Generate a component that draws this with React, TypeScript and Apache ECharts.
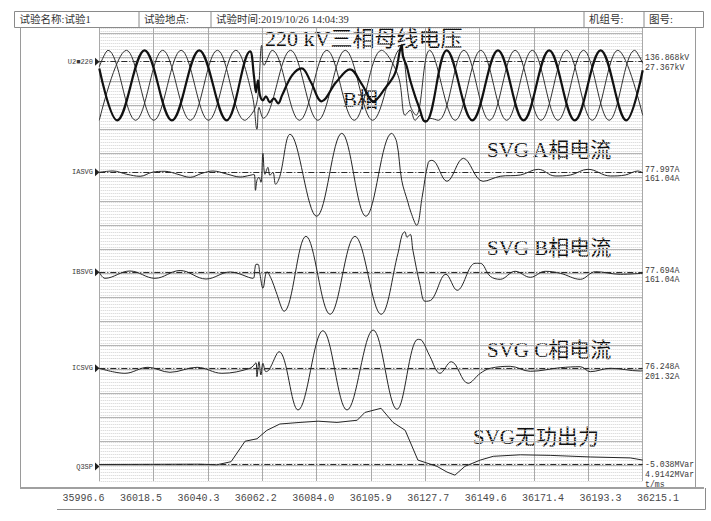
import React, { useEffect, useRef } from "react";
import * as echarts from "echarts";

// ---------- texts ----------
const HEADER_CELLS = ["试验名称:试验1", "试验地点:", "试验时间:2019/10/26 14:04:39", "机组号:", "图号:"];
const TIME_LABELS = ["35996.6", "36018.5", "36040.3", "36062.2", "36084.0", "36105.9", "36127.7", "36149.6", "36171.4", "36193.3", "36215.1"];
const CHANNEL_NAMES = ["U2■220", "IASVG", "IBSVG", "ICSVG", "Q3SP"];
const RIGHT_VALUES = [
  ["136.868kV", "27.367kV"],
  ["77.997A", "161.04A"],
  ["77.694A", "161.04A"],
  ["76.248A", "201.32A"],
  ["-5.038MVar", "4.9142MVar"],
];
const UNIT_LABEL = "t/ms";
const TITLES = ["220 kV三相母线电压", "B相", "SVG A相电流", "SVG B相电流", "SVG C相电流", "SVG无功出力"];

// ---------- data: [time ms from start, value in display units] ----------
const U_B: [number, number][] = [
  [0, 16.7], [7.2, -35], [18.2, 35], [29.2, -35], [40.2, 35], [51.2, -35], [60.6, 34],
  [62.2, 9], [63.0, -7], [63.8, 5], [64.6, -10], [65.8, -15], [67.0, -11], [68.6, -17], [70.2, -13],
  [71.9, -18], [73.5, -10], [77.5, 10], [81.4, 17], [85.1, 3], [89.4, -16], [95.2, 3], [100.8, 16],
  [105.6, 1], [110.2, -16], [114.9, -3], [118.9, 12], [120.9, 35], [121.6, 40], [122.1, 29],
  [123.6, 19], [125.0, 5], [127.0, -11], [129.0, -25], [130.3, -35], [131.4, -36],
  [139.7, 35], [150.0, -35], [160.3, 35], [170.6, -35], [180.9, 35], [191.2, -35], [201.6, 35],
  [211.9, -35], [218.5, 15],
];
const U_A: [number, number][] = [
  [0, -35], [10.9, 35], [21.9, -35], [32.9, 35], [43.9, -35], [54.9, 35], [61.4, -9],
  [63.4, -44], [64.2, -22], [65.9, -33], [76.9, 35], [87.9, -35], [98.9, 35], [109.9, -35],
  [120.9, 36], [125.0, -20], [127.4, -30], [132.8, 35], [143.1, -35], [153.4, 35], [163.8, -35],
  [174.1, 35], [184.4, -35], [194.7, 35], [205.0, -35], [215.3, 35], [218.5, 22],
];
const U_C: [number, number][] = [
  [0, 18.6], [3.5, 35], [14.6, -35], [25.5, 35], [36.6, -35], [47.5, 35], [58.5, -35],
  [62.2, -25], [63.8, -10], [65.3, 40], [66.2, 20], [69.5, 35], [80.5, -35], [91.5, 35],
  [102.5, -35], [113.5, 35], [120.1, 10], [123.0, -30], [125.0, -25], [127.0, -35], [129.0, -30],
  [131.0, -37], [133.0, -33], [136.3, -35], [146.6, 35], [156.9, -35], [167.2, 35], [177.6, -35],
  [187.9, 35], [198.2, -35], [208.5, 35], [218.5, -30],
];
const I_A: [number, number][] = [
  [0, 0], [5.5, 1.3], [11.1, -2], [16.4, -4], [21.2, 0], [26.4, 1], [31.6, -2], [36.5, -5],
  [41.3, -1], [45.7, 1.3], [51.7, -2], [56.6, -4.7], [60.6, -3], [62.2, -2], [62.8, -18],
  [63.4, -8], [64.2, -5], [65.0, -10], [65.8, 19], [66.6, -2], [67.8, 5], [68.6, -3], [69.8, 0],
  [70.9, -12], [72.6, -4], [76.7, 38], [87.4, -44], [97.5, 39], [107.2, -44], [117.6, 39],
  [119.6, 30], [121.6, -8], [124.1, -30], [125.3, -40], [127.6, -53], [129.8, -25], [132.3, 10],
  [133.8, 12], [139.8, -9], [146.4, 14], [154.3, -9], [161.2, -4], [169.3, -2.7], [176.5, 3],
  [183.3, -3.7], [189.4, -2.7], [196.5, 3], [205.5, -3.7], [211.5, -2.7], [216.6, 1.3], [218.5, -0.5],
];
const I_B: [number, number][] = [
  [0, 0], [2.3, -6], [12.3, 1.3], [22.4, -6], [32.5, 1.8], [42.9, -6.7], [52.6, 0.3], [61.8, -6],
  [62.6, 4], [63.0, 8], [63.8, 8], [64.6, -2], [65.8, -16], [67.4, 0.6], [69.4, -8], [71.0, -19],
  [74.3, -39], [83.1, 36], [92.8, -42], [102.8, 36], [113.3, -42], [120.1, 19], [121.7, 37],
  [122.9, 40.6], [123.7, 35], [125.0, 38], [126.1, 22], [129.0, -13], [131.0, -29], [133.8, -27],
  [139.4, -2], [143.9, -18], [151.1, 9], [153.2, 9], [157.2, -4], [161.2, -7], [167.2, 1],
  [173.3, -5], [179.3, 1], [185.4, -1], [193.4, -7], [199.5, 0.6], [209.5, -2], [218.5, -1],
];
const I_C: [number, number][] = [
  [0, 0], [10.3, -5], [19.6, 1], [28.4, -4], [39.3, 1], [49.3, -5], [60.6, 0], [63.0, 5.6],
  [63.4, -8.4], [64.2, 6.6], [65.0, -6.7], [65.8, 5], [67.0, -3.4], [68.2, -1.7], [72.3, 16.6],
  [79.9, -41.7], [89.9, 37.6], [99.6, -41.7], [110.1, 38.3], [119.7, -41], [128.1, 29],
  [129.8, 27.6], [133.0, 11.6], [137.0, -5], [141.5, 6.6], [148.3, -15], [153.2, -5], [157.2, 0],
  [165.2, 2], [173.3, -3], [185.4, 0.6], [193.4, 1.6], [197.4, -3.4], [205.5, 0], [217.6, -2.7],
  [218.5, -2.5],
];
const Q_OUT: [number, number][] = [
  [0, 0], [40.5, 0.3], [47.3, -0.3], [53.0, 3], [58.6, 24.7], [63.4, 27.3], [67.4, 36.3],
  [72.6, 43], [80.7, 44.7], [88.0, 46], [95.6, 44.7], [103.7, 47], [106.8, 55.3], [113.3, 59.7],
  [118.1, 44.7], [123.0, 36.3], [128.1, 4.7], [135.8, -2], [139.8, -8], [143.0, -11.3],
  [147.0, -2], [153.2, 4.7], [158.4, 8.7], [169.3, 10.3], [181.3, 9.7], [197.4, 8], [213.5, 7],
  [218.5, 4.7],
];
const U_REF_LEVEL = 23.6;

// ---------- layout ----------
const PLOT_L = 99.3;
const PLOT_W = 543.4;
const T_MAX = 218.5;
const T_STEP = 21.85;
const CH_ZERO = [85.3, 172.3, 272.3, 368.3, 468];
const CH_HALF = 60;
const SERIF = '"Liberation Serif", "DejaVu Serif", "Noto Sans CJK SC", serif';
const SMALL = '"Liberation Serif", "Noto Sans CJK SC", serif';
const MONO = '"Liberation Mono", "DejaVu Sans Mono", monospace';

function buildOption() {
  const grids: any[] = [];
  const xAxes: any[] = [];
  const yAxes: any[] = [];
  const series: any[] = [];

  const hiddenX = (gi: number, split: boolean) => ({
    type: "value", gridIndex: gi, min: 0, max: T_MAX, interval: T_STEP,
    axisLine: { show: false }, axisTick: { show: false }, axisLabel: { show: false },
    splitLine: { show: split, lineStyle: { color: "#a9a9a9", width: 1 } },
  });

  // 0: minor dotted horizontal lines + vertical major lines
  grids.push({ left: PLOT_L, top: 28, width: PLOT_W, height: 453, show: true, backgroundColor: "#ffffff", borderWidth: 0 });
  xAxes.push(hiddenX(0, true));
  yAxes.push({
    type: "value", gridIndex: 0, inverse: true, min: 0, max: 453, interval: 3,
    axisLine: { show: false }, axisTick: { show: false }, axisLabel: { show: false },
    splitLine: { show: true, lineStyle: { color: "#d2d2d2", type: [1, 1], width: 1 } },
  });
  // 1: major horizontal lines
  grids.push({ left: PLOT_L, top: 33.3, width: PLOT_W, height: 432 });
  xAxes.push(hiddenX(1, false));
  yAxes.push({
    type: "value", gridIndex: 1, inverse: true, min: 0, max: 432, interval: 24,
    axisLine: { show: false }, axisTick: { show: false }, axisLabel: { show: false },
    splitLine: { show: true, lineStyle: { color: "#b4b4b4", width: 1 } },
  });

  const chanData = [null, I_A, I_B, I_C, Q_OUT];
  CH_ZERO.forEach((z, i) => {
    const gi = grids.length;
    grids.push({ left: PLOT_L, top: z - CH_HALF, width: PLOT_W, height: CH_HALF * 2 });
    xAxes.push(hiddenX(gi, false));
    yAxes.push({
      type: "value", gridIndex: gi, min: -CH_HALF, max: CH_HALF,
      axisLine: { show: false }, axisTick: { show: false }, axisLabel: { show: false }, splitLine: { show: false },
    });
    const baseLine = {
      silent: true, symbol: "none", label: { show: false },
      lineStyle: { color: "#2a2a2a", width: 1, type: [6, 2, 1, 2] },
      data: [{ yAxis: i === 0 ? U_REF_LEVEL : 0 }],
    };
    if (i === 0) {
      series.push(
        { type: "line", xAxisIndex: gi, yAxisIndex: gi, data: U_A, smooth: 0.37, showSymbol: false, clip: false,
          lineStyle: { color: "#303030", width: 1 }, markLine: baseLine, z: 3 },
        { type: "line", xAxisIndex: gi, yAxisIndex: gi, data: U_C, smooth: 0.37, showSymbol: false, clip: false,
          lineStyle: { color: "#303030", width: 1 }, z: 3 },
        { type: "line", xAxisIndex: gi, yAxisIndex: gi, data: U_B, smooth: 0.37, showSymbol: false, clip: false,
          lineStyle: { color: "#111111", width: 2.2 }, z: 4 },
      );
    } else {
      series.push({
        type: "line", xAxisIndex: gi, yAxisIndex: gi, data: chanData[i], smooth: i === 4 ? false : 0.37,
        showSymbol: false, clip: false, lineStyle: { color: "#262626", width: 1 }, markLine: baseLine, z: 3,
      });
    }
  });

  // time label axis
  const lg = grids.length;
  grids.push({ left: 83.5, width: 574.5, top: 470, height: 18 });
  xAxes.push({
    type: "category", gridIndex: lg, data: TIME_LABELS, boundaryGap: false, position: "bottom",
    axisLine: { show: false }, axisTick: { show: false },
    axisLabel: { show: true, interval: 0, color: "#4a4a4a", fontSize: 10, fontFamily: MONO, margin: 5 },
    splitLine: { show: false },
  });
  yAxes.push({ type: "value", gridIndex: lg, show: false });

  // ---------- graphic ----------
  const g: any[] = [];
  const line = (x1: number, y1: number, x2: number, y2: number, stroke: string, w = 1) =>
    g.push({ type: "line", silent: true, shape: { x1, y1, x2, y2 }, style: { stroke, lineWidth: w } });
  const text = (t: string, x: number, y: number, font: string, fill: string, align = "left") =>
    g.push({ type: "text", silent: true, x, y, style: { text: t, font, fill, textAlign: align, textVerticalAlign: "middle" } });

  // header table
  const cellX = [14.5, 139, 211, 584, 644, 703.5];
  line(14.5, 11.5, 703.5, 11.5, "#8a8a8a");
  line(14.5, 27.5, 703.5, 27.5, "#8a8a8a");
  cellX.forEach((x) => line(x, 11.5, x, 27.5, "#8a8a8a"));
  HEADER_CELLS.forEach((t, i) => text(t, cellX[i] + 5, 19.5, `10.5px ${SMALL}`, "#333"));

  // panel frame
  line(20.5, 27.5, 20.5, 488, "#9a9a9a");
  line(695.5, 27.5, 695.5, 488, "#9a9a9a");
  line(20, 488, 704, 488, "#a0a0a0", 2);
  line(57, 509.5, 705.5, 509.5, "#8a8a8a");
  line(705.5, 488, 705.5, 509.5, "#8a8a8a");

  // channel labels and markers
  const labelY = [CH_ZERO[0] - U_REF_LEVEL, CH_ZERO[1], CH_ZERO[2], CH_ZERO[3], CH_ZERO[4] - 1.5];
  CHANNEL_NAMES.forEach((n, i) => {
    const y = labelY[i];
    text(n, 93, y, `7px ${MONO}`, "#3a3a3a", "right");
    g.push({ type: "polygon", silent: true, shape: { points: [[95, y - 4], [99.5, y], [95, y + 4]] }, style: { fill: "#222" } });
  });
  const rightY = [[57.7, 67.3], [169.3, 178.7], [270.3, 279.3], [366, 376], [464, 474]];
  RIGHT_VALUES.forEach((pair, i) => {
    pair.forEach((t, j) => text(t, 645, rightY[i][j], `8.2px ${MONO}`, "#3a3a3a"));
  });
  text(UNIT_LABEL, 645, 484, `8.2px ${MONO}`, "#3a3a3a");

  // big titles
  const titlePos = [[265, 38, 22], [343, 100, 21], [487, 150, 21], [487, 248, 21], [487, 350, 21], [473, 437, 21]];
  TITLES.forEach((t, i) => text(t, titlePos[i][0], titlePos[i][1], `${titlePos[i][2]}px ${SERIF}`, "#111"));

  return {
    animation: false,
    backgroundColor: "#ffffff",
    grid: grids,
    xAxis: xAxes,
    yAxis: yAxes,
    series,
    graphic: { elements: g },
  };
}

export default function App() {
  const ref = useRef<HTMLDivElement>(null);
  useEffect(() => {
    if (!ref.current) return;
    const chart = echarts.init(ref.current, undefined, { renderer: "svg" });
    chart.setOption(buildOption());
    return () => chart.dispose();
  }, []);
  return (
    <div
      ref={ref}
      style={{ position: "fixed", left: 0, top: 0, width: 711, height: 521, background: "#ffffff" }}
    />
  );
}
